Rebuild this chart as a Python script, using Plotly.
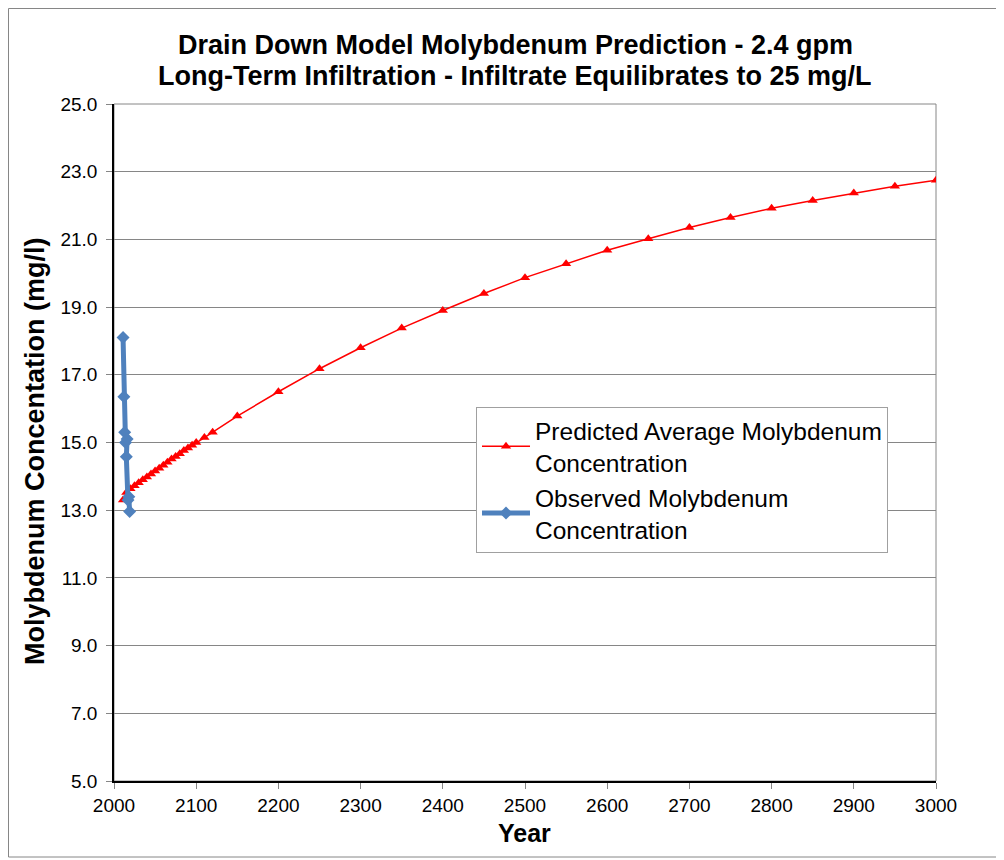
import plotly.graph_objects as go

pred_years = [2011, 2015, 2020, 2025, 2030, 2035, 2040, 2045, 2050, 2055, 2060, 2065, 2070, 2075,
              2080, 2085, 2090, 2095, 2100, 2110, 2120, 2150, 2200, 2250, 2300, 2350, 2400, 2450,
              2500, 2550, 2600, 2650, 2700, 2750, 2800, 2850, 2900, 2950, 3000]
pred_values = [13.30, 13.52, 13.63, 13.72, 13.81, 13.90, 13.98, 14.07, 14.16, 14.24, 14.33, 14.42,
               14.51, 14.59, 14.67, 14.76, 14.84, 14.92, 15.00, 15.15, 15.30, 15.78, 16.50, 17.18,
               17.80, 18.38, 18.90, 19.40, 19.87, 20.28, 20.68, 21.02, 21.35, 21.65, 21.92, 22.15,
               22.37, 22.57, 22.75]

obs_years = [2011, 2012, 2013, 2014, 2016, 2015, 2017, 2018, 2019]
obs_values = [18.10, 16.35, 15.30, 15.00, 15.10, 14.58, 13.30, 13.40, 12.96]

x_ticks = list(range(2000, 3001, 100))
y_ticks = [5.0, 7.0, 9.0, 11.0, 13.0, 15.0, 17.0, 19.0, 21.0, 23.0, 25.0]

title_lines = ["Drain Down Model Molybdenum Prediction - 2.4 gpm",
               "Long-Term Infiltration - Infiltrate Equilibrates to 25 mg/L"]
x_title = "Year"
y_title = "Molybdenum Concentation (mg/l)"

FONT = "Liberation Sans, Arial, sans-serif"
W, H = 1004, 860
L, R, T, B = 106, 76, 96, 87
PW, PH = W - L - R, H - T - B


def px_x(fx):
    return (fx - L) / PW


def px_y(fy):
    return (T + PH - fy) / PH


fig = go.Figure()
fig.add_trace(go.Scatter(
    x=pred_years, y=pred_values, mode="lines+markers",
    name="Predicted Average Molybdenum<br>Concentration",
    line=dict(color="#FF0000", width=1.5),
    marker=dict(symbol="triangle-up", size=9, color="#FF0000"),
))
fig.add_trace(go.Scatter(
    x=obs_years, y=obs_values, mode="lines+markers",
    name="Observed Molybdenum<br>Concentration",
    line=dict(color="#4F81BD", width=5),
    marker=dict(symbol="diamond", size=10, color="#4F81BD"),
))

annotations = [
    dict(text=f"<b>{title_lines[0]}</b>", xref="paper", yref="paper",
         x=px_x(507), y=px_y(37), xanchor="center", yanchor="middle", showarrow=False,
         font=dict(size=27, family=FONT, color="black")),
    dict(text=f"<b>{title_lines[1]}</b>", xref="paper", yref="paper",
         x=px_x(507), y=px_y(68), xanchor="center", yanchor="middle", showarrow=False,
         font=dict(size=27, family=FONT, color="black")),
    dict(text=f"<b>{x_title}</b>", xref="paper", yref="paper",
         x=px_x(516), y=px_y(825), xanchor="center", yanchor="middle", showarrow=False,
         font=dict(size=25, family=FONT, color="black")),
    dict(text=f"<b>{y_title}</b>", xref="paper", yref="paper", textangle=-90,
         x=px_x(27), y=px_y(444), xanchor="center", yanchor="middle", showarrow=False,
         font=dict(size=27, family=FONT, color="black")),
]

fig.update_layout(
    width=W, height=H,
    paper_bgcolor="white", plot_bgcolor="white",
    margin=dict(l=L, r=R, t=T, b=B),
    font=dict(family=FONT, color="black"),
    showlegend=True,
    legend=dict(
        x=px_x(468), y=px_y(399), xanchor="left", yanchor="top",
        bgcolor="white", bordercolor="#A0A0A0", borderwidth=1,
        font=dict(size=24.5, family=FONT, color="black"),
        itemwidth=48, tracegroupgap=4,
    ),
    annotations=annotations,
    shapes=[dict(type="rect", xref="paper", yref="paper", x0=0, x1=1, y0=0, y1=1,
                 line=dict(color="#868686", width=1), layer="below"),
            dict(type="rect", xref="paper", yref="paper", x0=px_x(0.5), x1=px_x(989),
                 y0=px_y(849), y1=px_y(0.5),
                 line=dict(color="#868686", width=1), layer="below")],
)
fig.update_xaxes(
    range=[2000, 3000], tickvals=x_ticks, ticktext=[str(v) for v in x_ticks],
    showgrid=False, showline=True, linecolor="black", linewidth=1.5,
    ticks="outside", ticklen=6, tickcolor="#868686",
    tickfont=dict(size=19, family=FONT, color="black"),
    zeroline=False,
)
fig.update_yaxes(
    range=[5, 25], tickvals=y_ticks, ticktext=[f"{v:.1f}" for v in y_ticks],
    showgrid=True, gridcolor="#868686", gridwidth=1,
    showline=True, linecolor="black", linewidth=1.5,
    ticks="outside", ticklen=6, tickcolor="#868686", ticklabelstandoff=5,
    tickfont=dict(size=19, family=FONT, color="black"),
    zeroline=False,
)

fig.write_html("out.html")
